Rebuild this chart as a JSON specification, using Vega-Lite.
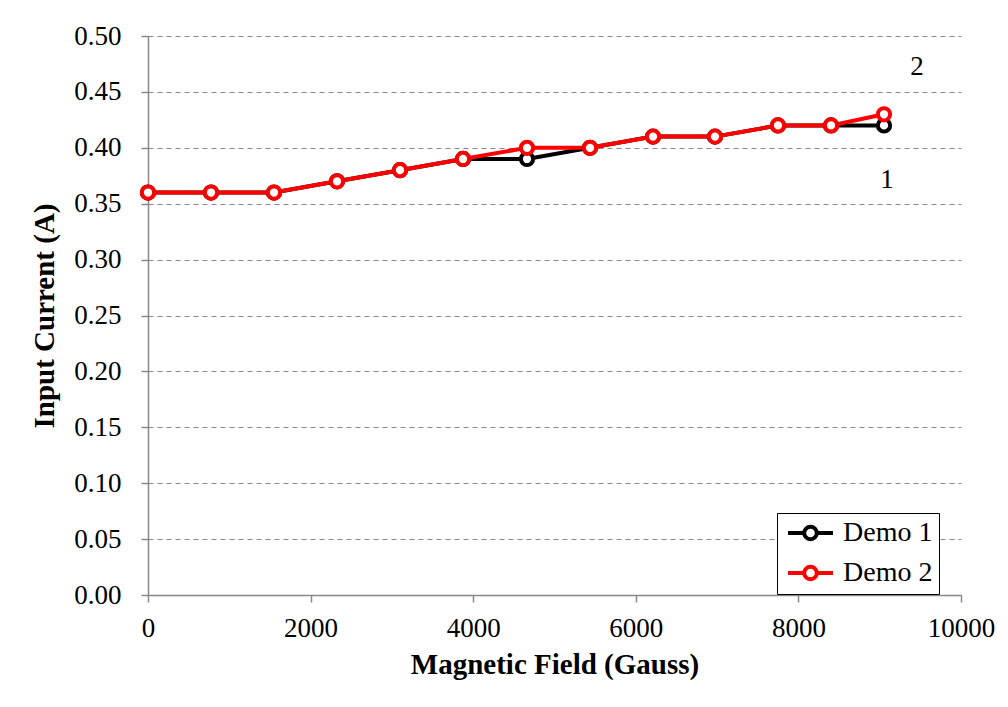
{
  "$schema": "https://vega.github.io/schema/vega-lite/v6.json",
  "autosize": {"type": "none"},
  "padding": {"left": 148, "top": 36, "right": 47, "bottom": 112},
  "width": 813,
  "height": 559,
  "background": "white",
  "config": {
    "font": "Liberation Serif",
    "view": {"stroke": null},
    "axis": {
      "labelFont": "Liberation Serif",
      "titleFont": "Liberation Serif",
      "labelFontSize": 27,
      "titleFontSize": 29,
      "labelColor": "black",
      "titleColor": "black",
      "titleFontWeight": "bold",
      "domainColor": "#888888",
      "domainWidth": 1.5,
      "tickColor": "#888888",
      "tickWidth": 1.5,
      "tickSize": 7,
      "gridColor": "#888888",
      "gridDash": [5, 4],
      "gridWidth": 1.2
    }
  },
  "data": {
    "values": [
      {"field": 0, "current": 0.36, "series": "Demo 1"},
      {"field": 775, "current": 0.36, "series": "Demo 1"},
      {"field": 1550, "current": 0.36, "series": "Demo 1"},
      {"field": 2325, "current": 0.37, "series": "Demo 1"},
      {"field": 3100, "current": 0.38, "series": "Demo 1"},
      {"field": 3875, "current": 0.39, "series": "Demo 1"},
      {"field": 4662, "current": 0.39, "series": "Demo 1"},
      {"field": 5437, "current": 0.40, "series": "Demo 1"},
      {"field": 6212, "current": 0.41, "series": "Demo 1"},
      {"field": 6974, "current": 0.41, "series": "Demo 1"},
      {"field": 7749, "current": 0.42, "series": "Demo 1"},
      {"field": 8401, "current": 0.42, "series": "Demo 1"},
      {"field": 9053, "current": 0.42, "series": "Demo 1"},
      {"field": 0, "current": 0.36, "series": "Demo 2"},
      {"field": 775, "current": 0.36, "series": "Demo 2"},
      {"field": 1550, "current": 0.36, "series": "Demo 2"},
      {"field": 2325, "current": 0.37, "series": "Demo 2"},
      {"field": 3100, "current": 0.38, "series": "Demo 2"},
      {"field": 3875, "current": 0.39, "series": "Demo 2"},
      {"field": 4662, "current": 0.40, "series": "Demo 2"},
      {"field": 5437, "current": 0.40, "series": "Demo 2"},
      {"field": 6212, "current": 0.41, "series": "Demo 2"},
      {"field": 6974, "current": 0.41, "series": "Demo 2"},
      {"field": 7749, "current": 0.42, "series": "Demo 2"},
      {"field": 8401, "current": 0.42, "series": "Demo 2"},
      {"field": 9053, "current": 0.43, "series": "Demo 2"}
    ]
  },
  "encoding": {
    "x": {
      "field": "field", "type": "quantitative",
      "scale": {"domain": [0, 10000], "nice": false, "zero": true},
      "axis": {"title": "Magnetic Field (Gauss)", "values": [0, 2000, 4000, 6000, 8000, 10000], "grid": false, "labelPadding": 13, "titlePadding": 9, "labelFlush": false, "format": "d"}
    },
    "y": {
      "field": "current", "type": "quantitative",
      "scale": {"domain": [0, 0.5], "nice": false},
      "axis": {"title": "Input Current (A)", "values": [0, 0.05, 0.1, 0.15, 0.2, 0.25, 0.3, 0.35, 0.4, 0.45, 0.5], "format": ".2f", "grid": true, "labelPadding": 20, "titlePadding": 14}
    }
  },
  "layer": [
    {
      "mark": {"type": "line", "strokeWidth": 4},
      "encoding": {
        "color": {
          "field": "series", "type": "nominal",
          "scale": {"domain": ["Demo 1", "Demo 2"], "range": ["#000000", "#ff0000"]},
          "legend": {
            "title": null,
            "orient": "none",
            "legendX": 629,
            "legendY": 477,
            "direction": "vertical",
            "strokeColor": "black",
            "padding": 6,
            "fillColor": "white",
            "labelFont": "Liberation Serif",
            "labelFontSize": 28,
            "labelColor": "black",
            "symbolType": "M -1 0 L 0.8 0 M 2.2 0 L 4 0 M 0.8 0 A 0.7 0.7 0 1 1 2.2 0 A 0.7 0.7 0 1 1 0.8 0 Z",
            "symbolSize": 324,
            "symbolStrokeWidth": 4,
            "symbolFillColor": "white",
            "rowPadding": 10,
            "labelOffset": 32
          }
        }
      }
    },
    {
      "mark": {"type": "point", "filled": false, "fill": "white", "fillOpacity": 1, "strokeWidth": 4, "size": 150, "opacity": 1},
      "encoding": {
        "color": {"field": "series", "type": "nominal", "legend": null}
      }
    },
    {
      "data": {"values": [{"field": 9459, "current": 0.472, "label": "2"}, {"field": 9090, "current": 0.371, "label": "1"}]},
      "mark": {"type": "text", "font": "Liberation Serif", "fontSize": 27, "color": "black", "align": "center", "baseline": "middle"},
      "encoding": {"text": {"field": "label"}}
    }
  ]
}
